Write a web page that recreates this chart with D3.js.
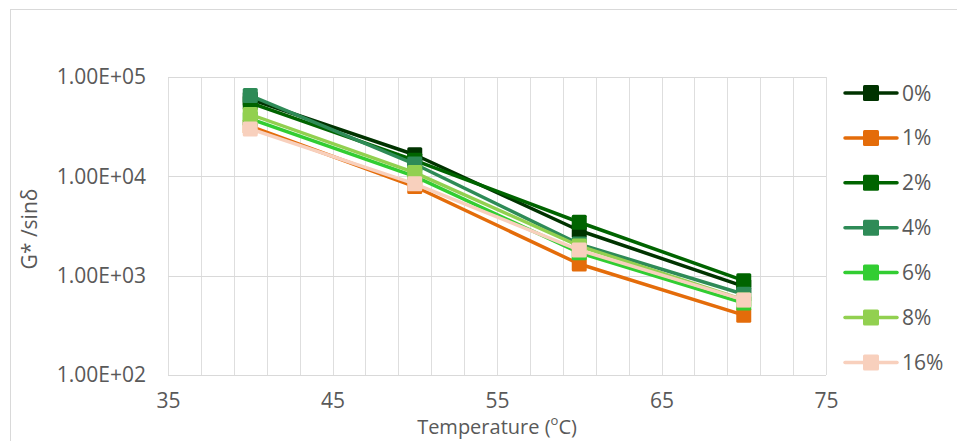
<!DOCTYPE html>
<html>
<head>
<meta charset="utf-8">
<script src="https://cdn.jsdelivr.net/npm/d3@7"></script>
<style>
  body { margin: 0; background: #fff; }
  svg text { font-family: "Open Sans", sans-serif; fill: #595959; }
</style>
</head>
<body>
<div id="chart"></div>
<script>
// data
var temps = [40, 50, 60, 70];
var seriesNames = ["0%", "1%", "2%", "4%", "6%", "8%", "16%"];
var seriesColors = ["#003300", "#E46C0A", "#006400", "#2E8B57", "#32CD32", "#92D050", "#F8D0BD"];
var v0 = [60000, 16500, 2850, 780];
var v1 = [32000, 7900, 1310, 400];
var v2 = [55000, 14500, 3450, 890];
var v4 = [65000, 13300, 2080, 650];
var v6 = [38000, 10000, 1700, 530];
var v8 = [42000, 10900, 1990, 570];
var v16 = [30000, 8400, 1810, 570];
var seriesValues = [v0, v1, v2, v4, v6, v8, v16];
var xTicks = [35, 45, 55, 65, 75];
var yTicks = [1e2, 1e3, 1e4, 1e5];

var width = 957, height = 441;
var margin = {left: 168, right: 131, top: 77, bottom: 66};

var svg = d3.select("#chart").append("svg")
    .attr("width", width)
    .attr("height", height);

// outer chart frame
svg.append("rect")
    .attr("x", 10.5).attr("y", 9.5)
    .attr("width", width).attr("height", height)
    .style("fill", "none")
    .style("stroke", "#D9D9D9");

var x = d3.scaleLinear().domain([35, 75]).range([margin.left, width - margin.right]);
var y = d3.scaleLog().domain([100, 100000]).range([height - margin.bottom, margin.top]);

// gridlines
svg.append("g").selectAll("line")
    .data(d3.range(35, 75.1, 2))
    .enter().append("line")
    .attr("x1", function (d) { return Math.round(x(d)) + 0.5; })
    .attr("x2", function (d) { return Math.round(x(d)) + 0.5; })
    .attr("y1", y(100e3)).attr("y2", y(100))
    .style("stroke", "#DEDEDE");
svg.append("g").selectAll("line")
    .data(yTicks)
    .enter().append("line")
    .attr("x1", x(35)).attr("x2", x(75))
    .attr("y1", function (d) { return Math.round(y(d)) + 0.5; })
    .attr("y2", function (d) { return Math.round(y(d)) + 0.5; })
    .style("stroke", "#D9D9D9");

// axes (labels only, Excel style)
var xAxis = d3.axisBottom(x).tickValues(xTicks).tickSize(0).tickPadding(18);
var gx = svg.append("g")
    .attr("transform", "translate(0," + y(100) + ")")
    .call(xAxis);
gx.select(".domain").remove();
gx.selectAll("text").style("font-size", "21px").style("fill", "#595959")
    .style("font-family", "'Open Sans', sans-serif");

var yAxis = d3.axisLeft(y).tickValues(yTicks).tickSize(0).tickPadding(22)
    .tickFormat(function (d) { return "1.00E+0" + Math.round(Math.log10(d)); });
var gy = svg.append("g")
    .attr("transform", "translate(" + x(35) + ",0)")
    .call(yAxis);
gy.select(".domain").remove();
gy.selectAll("text").style("font-size", "21px").style("fill", "#595959")
    .style("font-family", "'Open Sans', sans-serif");

// axis titles
var xt = svg.append("text")
    .attr("x", 497).attr("y", 434)
    .attr("text-anchor", "middle")
    .style("font-size", "20px");
xt.append("tspan").text("Temperature (");
xt.append("tspan").attr("baseline-shift", "super").style("font-size", "13px").text("o");
xt.append("tspan").text("C)");

svg.append("text")
    .attr("transform", "translate(37,229) rotate(-90)")
    .attr("text-anchor", "middle")
    .style("font-size", "21px")
    .text("G* /sin\u03b4");

// series
var line = d3.line()
    .x(function (d, i) { return x(temps[i]); })
    .y(function (d) { return y(d); });

var series = svg.append("g").selectAll("g")
    .data(seriesValues)
    .enter().append("g");

series.append("path")
    .attr("d", function (d) { return line(d); })
    .style("fill", "none")
    .style("stroke-width", 3.5)
    .style("stroke-linejoin", "round")
    .style("stroke", function (d, i) { return seriesColors[i]; });

series.each(function (vals, si) {
    d3.select(this).selectAll("rect")
        .data(vals)
        .enter().append("rect")
        .attr("x", function (d, i) { return x(temps[i]) - 7.5; })
        .attr("y", function (d) { return y(d) - 7.5; })
        .attr("width", 15).attr("height", 15)
        .attr("rx", 1.5)
        .style("fill", seriesColors[si]);
});

// legend
var legend = svg.append("g").selectAll("g")
    .data(seriesNames)
    .enter().append("g")
    .attr("transform", function (d, i) { return "translate(0," + (93 + i * 44.9) + ")"; });
legend.append("line")
    .attr("x1", 845).attr("x2", 897)
    .style("stroke-width", 3.5)
    .style("stroke-linecap", "round")
    .style("stroke", function (d, i) { return seriesColors[i]; });
legend.append("rect")
    .attr("x", 863).attr("y", -8)
    .attr("width", 16).attr("height", 16)
    .attr("rx", 1.5)
    .style("fill", function (d, i) { return seriesColors[i]; });
legend.append("text")
    .attr("x", 902).attr("y", 7.5)
    .style("font-size", "21px")
    .text(function (d) { return d; });
</script>
</body>
</html>
